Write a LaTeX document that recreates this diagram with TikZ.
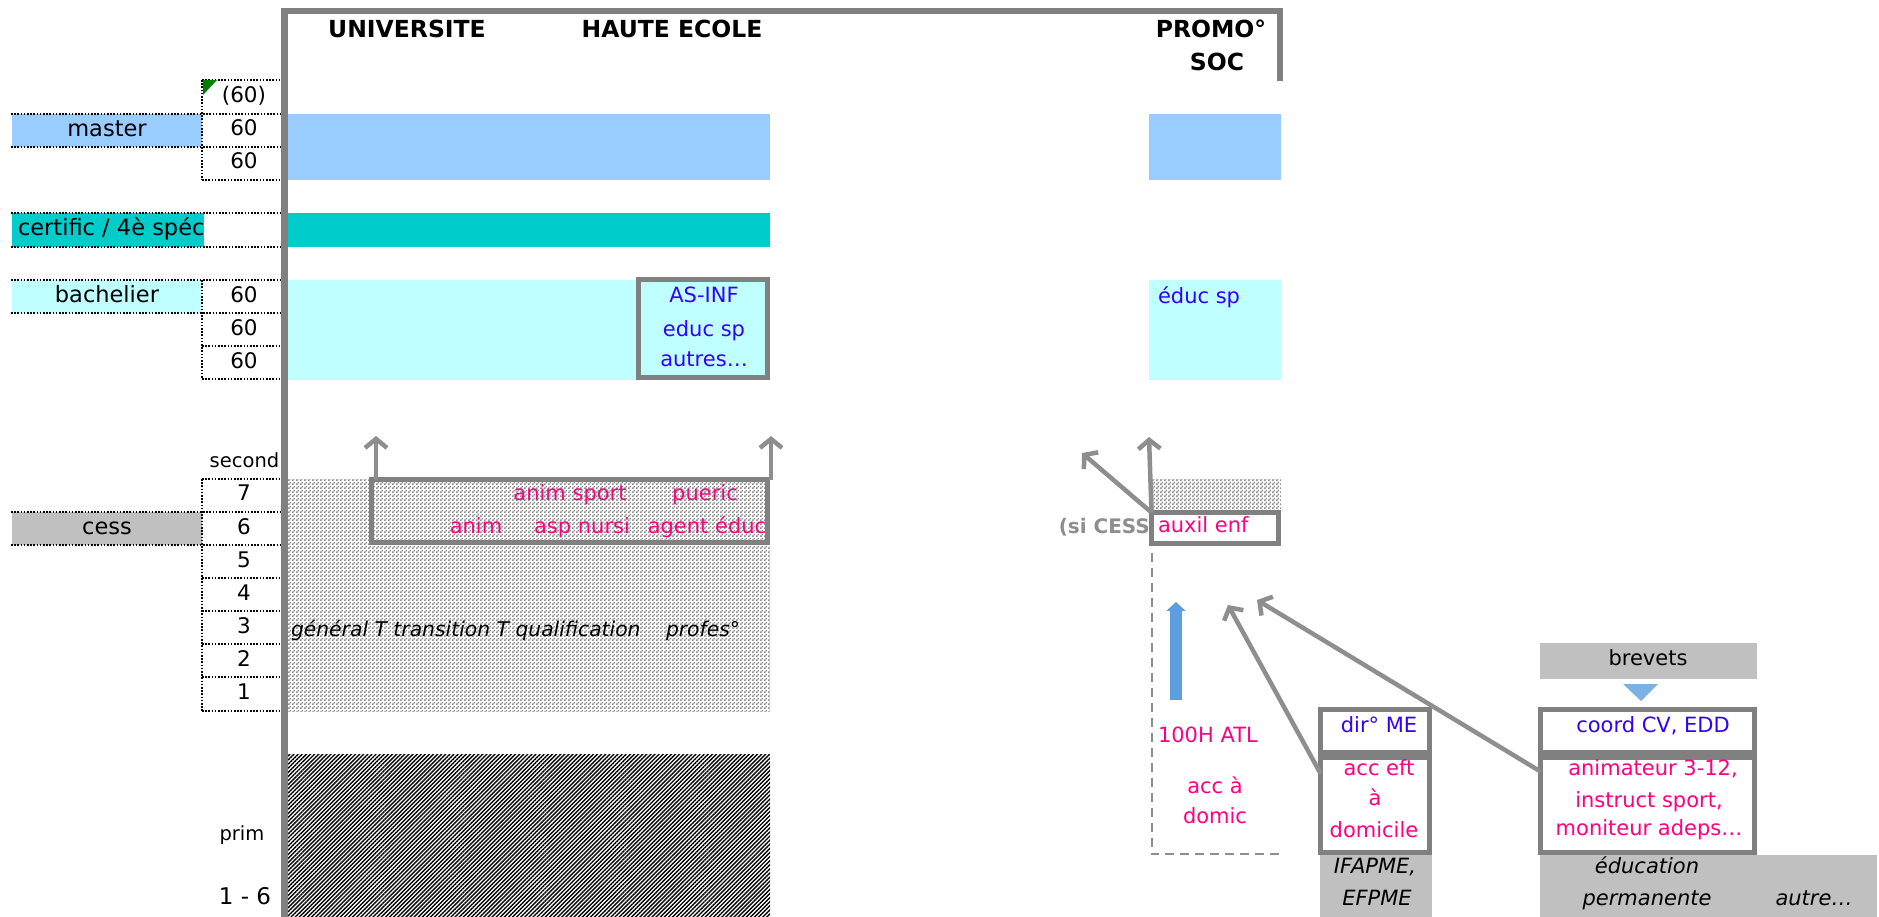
\documentclass[tikz,border=0pt]{standalone}
\usepackage{fontspec}
\setmainfont{DejaVu Sans}
\usetikzlibrary{positioning,arrows.meta,patterns,patterns.meta}

\definecolor{masterblue}{HTML}{99CCFF}
\definecolor{certifteal}{HTML}{00CCCC}
\definecolor{bachcyan}{HTML}{C0FFFF}
\definecolor{labgray}{HTML}{C0C0C0}
\definecolor{framegray}{HTML}{808080}
\definecolor{arrowgray}{HTML}{8E8E8E}
\definecolor{jobpink}{HTML}{FF0080}
\definecolor{titleblue}{HTML}{3300FF}
\definecolor{atlblue}{HTML}{5C9EE0}

% fine grey checker of the secondary school block
\pgfdeclarepatternformonly{finecheck}{\pgfpointorigin}{\pgfqpoint{4pt}{4pt}}{\pgfqpoint{4pt}{4pt}}{%
  \pgfpathrectangle{\pgfpointorigin}{\pgfqpoint{2pt}{2pt}}%
  \pgfpathrectangle{\pgfqpoint{2pt}{2pt}}{\pgfqpoint{2pt}{2pt}}%
  \pgfusepath{fill}}

\tikzset{
  every node/.style={inner sep=0pt,outer sep=0pt,font=\fontsize{21}{25}\selectfont},
  txt/.style={text height=15pt,text depth=4pt},
  headtxt/.style={txt,font=\fontsize{23.5}{27}\selectfont\bfseries},
  labtxt/.style={txt,font=\fontsize{22.5}{27}\selectfont},
  numtxt/.style={txt,font=\fontsize{21.5}{26}\selectfont},
  smalltxt/.style={txt,font=\fontsize{19.5}{24}\selectfont},
  jobtxt/.style={txt,text=jobpink},
  titletxt/.style={txt,text=titleblue},
  ittxt/.style={txt,font=\fontsize{21}{25}\selectfont\itshape},
  greybox/.style={draw=framegray,line width=5pt,fill=white},
  dotline/.style={line width=1.6pt,dash pattern=on 1.6pt off 1.6pt},
  grayarrow/.style={draw=arrowgray,line width=4.5pt,-{Straight Barb[length=9pt,width=22pt]}},
}

\begin{document}
\begin{tikzpicture}[x=1pt,y=-1pt]
\useasboundingbox (0,0) rectangle (1879,917);

% bands
\fill[masterblue] (12,114) rectangle (202,147);
\fill[certifteal] (12,213) rectangle (204,247);
\fill[bachcyan] (12,280) rectangle (202,313);
\fill[labgray] (12,512) rectangle (202,545);
\fill[masterblue] (284,114) rectangle (770,180);
\fill[masterblue] (1149,114) rectangle (1281,180);
\fill[certifteal] (284,213) rectangle (770,247);
\fill[bachcyan] (284,280) rectangle (770,380);
\fill[bachcyan] (1149,280) rectangle (1281,380);
\fill[pattern=finecheck,pattern color=black!45] (284,479) rectangle (770,711);
\fill[pattern=finecheck,pattern color=black!45] (1149,479) rectangle (1281,511);
\fill[pattern={Lines[angle=45,distance=2.9pt,line width=1.4pt]},pattern color=black] (284,754) rectangle (770,917);

% dotted grid of the left column
\draw[dotline] (202,80) -- (281,80) (202,80) -- (202,180)
  (11,114) -- (281,114) (11,147) -- (281,147) (202,180) -- (281,180);
\draw[dotline] (11,213) -- (281,213) (11,247) -- (281,247);
\draw[dotline] (11,280) -- (281,280) (11,313) -- (281,313) (202,280) -- (202,379)
  (202,346) -- (281,346) (202,379) -- (281,379);
\draw[dotline] (202,479) -- (281,479) (202,479) -- (202,711)
  (11,512) -- (281,512) (11,545) -- (281,545);
\foreach \y in {578,611,644,677,711}
  \draw[dotline] (202,\y) -- (281,\y);
\fill[green!50!black] (203,80) -- (217,80) -- (203,95) -- cycle;

% frame
\draw[framegray,line width=6.5pt,line join=miter] (284.5,917) -- (284.5,11) -- (1280,11) -- (1280,81);

% titles
\node[headtxt] (univ) at (407,32) {UNIVERSITE};
\node[headtxt] (haute) at (672,32) {HAUTE ECOLE};
\node[headtxt] (promo) at (1211,32) {PROMO°};
\node[headtxt] (soc) at (1217,65) {SOC};

% left labels and credits
\node[labtxt] (master) at (107,131.5) {master};
\node[labtxt,anchor=west] (certif) at (18,230) {certific / 4è spéc};
\node[labtxt] (bach) at (107,296.5) {bachelier};
\node[labtxt] (cess) at (107,528.5) {cess};
\node[numtxt] (m0) at (244,97) {(60)};
\node[numtxt] (m1) at (244,130.5) {60};
\node[numtxt] (m2) at (244,163.5) {60};
\node[numtxt] (b1) at (244,296.5) {60};
\node[numtxt] (b2) at (244,329.5) {60};
\node[numtxt] (b3) at (244,362.5) {60};
\node[smalltxt] (second) at (244.5,462) {second};
\foreach \n/\y in {7/495,6/528.5,5/561.5,4/594.5,3/627.5,2/660.5,1/693.5}
  \node[numtxt] (s\n) at (244,\y) {\n};
\node[smalltxt] (prim) at (242,835) {prim};
\node[txt,font=\fontsize{23}{27}\selectfont] (primyrs) at (245,899) {1 - 6};

% haute ecole bachelors
\node[greybox,fill=none,minimum width=129,minimum height=98] (hebac) at (703,328.5) {};
\node[titletxt] (asinf) at (704,297) {AS-INF};
\node[titletxt] (eduche) at (704,331) {educ sp};
\node[titletxt] (autres) at (704,361) {autres…};
\node[titletxt,anchor=west] (educps) at (1158,298) {éduc sp};

% secondary qualifications
\node[greybox,fill=none,minimum width=396,minimum height=63] (secbox) at (569.5,511) {};
\node[jobtxt] (animsp) at (570,495) {anim sport};
\node[jobtxt] (pueric) at (705,495) {pueric};
\node[jobtxt] (anim) at (476,528) {anim};
\node[jobtxt] (aspn) at (582,528) {asp nursi};
\node[jobtxt] (agent) at (707,528) {agent éduc};
\node[ittxt,font=\fontsize{20.3}{25}\selectfont\itshape,anchor=west] (filieres) at (291,631) {général T transition T qualification};
\node[ittxt,font=\fontsize{20.3}{25}\selectfont\itshape,anchor=west] (profes) at (666,631) {profes°};

\coordinate (tipuniv) at (376,436);
\coordinate (tiphe) at (771,436);
\draw[grayarrow] ([xshift=4.5pt]secbox.north west) -- (tipuniv);
\draw[grayarrow] ([xshift=3.5pt]secbox.north east) -- (tiphe);

% promotion sociale
\node[txt,text=arrowgray,font=\fontsize{20}{24}\selectfont\bfseries,anchor=east] (sicess) at (1159,528) {(si CESS)};
\node[greybox,minimum width=127,minimum height=31] (auxil) at (1215,528) {};
\node[jobtxt,anchor=west] (auxiltxt) at (1158,527) {auxil enf};
\coordinate (tipsec) at (1082,453);
\coordinate (tipps) at (1149,437);
\draw[grayarrow] (auxil.north west) -- (tipsec);
\draw[grayarrow] (auxil.north west) -- (tipps);
\coordinate (dashcorner) at (1151.5,854);
\coordinate (dashend) at (1283,854);
\draw[arrowgray,line width=2pt,dash pattern=on 9pt off 6pt] ([yshift=-9pt]auxil.south west) -- (dashcorner) -- (dashend);
\coordinate (atlfoot) at (1176,700);
\coordinate (atltip) at (1176,602);
\draw[atlblue,line width=12pt,-{Triangle[length=9pt,width=19pt]}] (atlfoot) -- (atltip);
\node[jobtxt,anchor=west] (atl) at (1158,737) {100H ATL};
\node[jobtxt] (acca) at (1215,788) {acc à};
\node[jobtxt] (domic) at (1215,818) {domic};

% IFAPME
\node[greybox,minimum width=109,minimum height=43] (dirme) at (1375,731) {};
\node[greybox,minimum width=109,minimum height=95] (accbox) at (1375,805) {};
\node[titletxt] (dirtxt) at (1379,727) {dir° ME};
\node[jobtxt] (acceft) at (1379,770) {acc eft};
\node[jobtxt] (acceft2) at (1375,800) {à};
\node[jobtxt] (acceft3) at (1374,832) {domicile};
\fill[labgray] (1320,855) rectangle (1432,917);
\node[ittxt] (ifapme) at (1375,868) {IFAPME,};
\node[ittxt] (efpme) at (1377,900) {EFPME};
\coordinate (tipdir) at (1228,605);
\draw[grayarrow] ([yshift=-16pt]accbox.north west) -- (tipdir);

% education permanente
\node[fill=labgray,minimum width=217,minimum height=36] (brevets) at (1648.5,661) {};
\node[txt] (brevtxt) at (1648,660) {brevets};
\fill[atlblue!80] (1623,684) -- (1658,684) -- (1641,701) -- cycle;
\node[greybox,minimum width=214,minimum height=43] (coord) at (1647.5,731) {};
\node[greybox,minimum width=214,minimum height=95] (animbox) at (1647.5,805) {};
\node[titletxt] (coordtxt) at (1653,727) {coord CV, EDD};
\node[jobtxt] (animat) at (1653,770) {animateur 3-12,};
\node[jobtxt] (instr) at (1649,802) {instruct sport,};
\node[jobtxt] (monit) at (1649,830) {moniteur adeps…};
\fill[labgray] (1540,855) rectangle (1877,917);
\node[ittxt] (educperm) at (1647,868) {éducation};
\node[ittxt] (educperm2) at (1647,900) {permanente};
\node[ittxt] (autre) at (1814,900) {autre…};
\coordinate (tipep) at (1257,600);
\draw[grayarrow] ([yshift=-14pt]animbox.north west) -- (tipep);
\end{tikzpicture}
\end{document}
